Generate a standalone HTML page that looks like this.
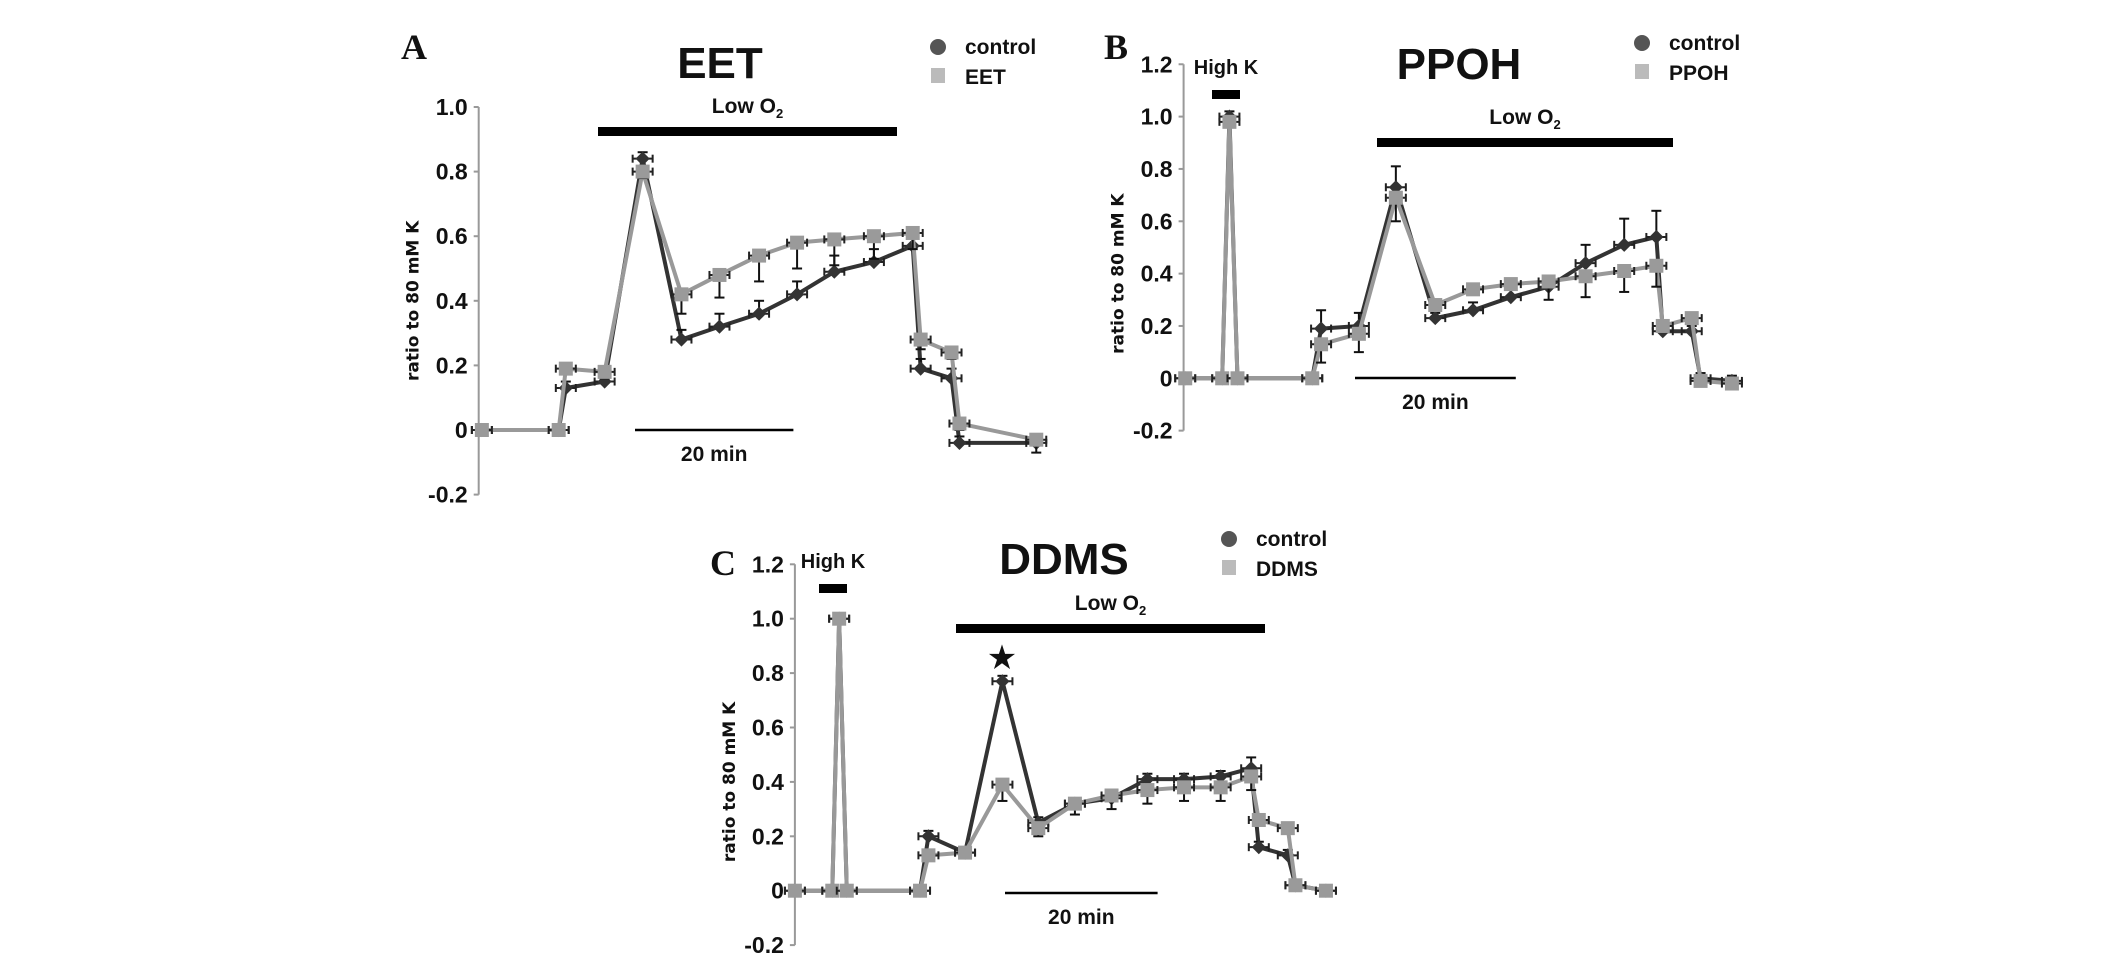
<!DOCTYPE html>
<html><head><meta charset="utf-8"><style>
html,body{margin:0;padding:0;background:#fff}
svg{display:block}
text{font-family:"Liberation Sans Narrow","Liberation Sans",sans-serif;font-weight:bold;fill:#111}
</style></head><body>
<svg id="fig" width="2126" height="960" viewBox="0 0 2126 960" xmlns="http://www.w3.org/2000/svg"></svg>
<script>
// ---- Panel A (EET) ----
const timesA = [0.4,10.1,11,15.9,20.7,25.6,30.4,35.4,40.2,44.9,49.9,54.8,55.8,59.7,60.7,70.4];
const ctrlA  = [0,0,0.13,0.15,0.84,0.28,0.32,0.36,0.42,0.49,0.52,0.57,0.19,0.16,-0.04,-0.04];
const ctrlErrA = [0,0,0.02,0.02,0.02,0.03,0.04,0.04,0.04,0.05,0.04,0.03,0.03,0.03,0.02,0.02];
const trtA   = [0,0,0.19,0.18,0.80,0.42,0.48,0.54,0.58,0.59,0.60,0.61,0.28,0.24,0.02,-0.03];
const trtErrA = [0,0,0.01,0.02,0.02,0.06,0.07,0.08,0.08,0.08,0.07,0.05,0.03,0.02,0.02,0.04];
// ---- Panel B (PPOH) ----
const timesB = [0.2,4.8,5.7,6.7,16,17.1,21.8,26.4,31.3,36,40.7,45.4,50,54.8,58.8,59.6,63.2,64.3,68.2];
const ctrlB  = [0,0,1.0,0,0,0.19,0.20,0.73,0.23,0.26,0.31,0.35,0.44,0.51,0.54,0.18,0.18,0.0,-0.01];
const ctrlErrB = [0,0,0.02,0,0,0.07,0.05,0.08,0.02,0.03,0.03,0.04,0.07,0.10,0.10,0.02,0.02,0.02,0.02];
const trtB   = [0,0,0.98,0,0,0.13,0.17,0.69,0.28,0.34,0.36,0.37,0.39,0.41,0.43,0.20,0.23,-0.01,-0.02];
const trtErrB = [0,0,0.02,0,0,0.07,0.07,0.09,0.02,0.02,0.02,0.07,0.08,0.08,0.08,0.02,0.02,0.02,0.02];
// ---- Panel C (DDMS) ----
const timesC = [0,4.9,5.8,6.8,16.4,17.5,22.3,27.2,31.9,36.7,41.5,46.2,51,55.8,59.8,60.8,64.6,65.6,69.6];
const ctrlC  = [0,0,1.0,0,0,0.20,0.14,0.77,0.25,0.32,0.34,0.41,0.41,0.42,0.45,0.16,0.13,0.02,0];
const ctrlErrC = [0,0,0.02,0,0,0.02,0.02,0.02,0.02,0.02,0.03,0.02,0.02,0.02,0.04,0.02,0.02,0.02,0.01];
const trtC   = [0,0,1.0,0,0,0.13,0.14,0.39,0.23,0.32,0.35,0.37,0.38,0.38,0.42,0.26,0.23,0.02,0];
const trtErrC = [0,0,0.02,0,0,0.02,0.02,0.06,0.03,0.04,0.05,0.05,0.05,0.05,0.05,0.02,0.02,0.02,0.01];
const tickVals = [-0.2,0,0.2,0.4,0.6,0.8,1.0,1.2];
const tickLabels = ["-0.2","0","0.2","0.4","0.6","0.8","1.0","1.2"];

const NS="http://www.w3.org/2000/svg";
const svg=document.getElementById('fig');
function mk(tag,attrs,parent,txt){const e=document.createElementNS(NS,tag);for(const k in attrs)e.setAttribute(k,attrs[k]);if(txt!==undefined)e.textContent=txt;(parent||svg).appendChild(e);return e;}

function panel(cfg){
  const g=mk('g',{});
  
  
  const xs=t=>cfg.x0+t*cfg.pxMin;
  const ys=v=>cfg.y0-v*cfg.pxUnit;
  const ax=mk('line',{x1:cfg.x0,x2:cfg.x0,y1:ys(cfg.ymax),y2:ys(-0.2),stroke:'#999','stroke-width':2},g);
  
  
  tickVals.forEach((v,i)=>{
    if(v>cfg.ymax+1e-9)return;
    mk('line',{x1:cfg.x0-5,x2:cfg.x0,y1:ys(v),y2:ys(v),stroke:'#999','stroke-width':2},g);
    const t=mk('text',{x:cfg.x0-11,y:ys(v)+8,'text-anchor':'end','font-size':23},g,tickLabels[i]);
    
    
  });
  const yl=mk('text',{x:0,y:0,'text-anchor':'middle','font-size':17,transform:`translate(${cfg.x0-60},${ys(0.4)}) rotate(-90)`,style:'font-family:"DejaVu Sans",sans-serif'},g,'ratio to 80 mM K');
  
  
  function series(times,vals,errs,color,mcolor,dir,name,shape){
    const sg=mk('g',{},g);
    
    
    const pts=times.map((t,i)=>xs(t)+','+ys(vals[i])).join(' ');
    mk('polyline',{points:pts,fill:'none',stroke:color,'stroke-width':4,'stroke-linejoin':'round'},sg);
    times.forEach((t,i)=>{
      const x=xs(t),y=ys(vals[i]);
      if(errs[i]>0.015){
        const ye=ys(vals[i]+dir*errs[i]);
        mk('line',{x1:x,x2:x,y1:y,y2:ye,stroke:'#111','stroke-width':2},sg);
        mk('line',{x1:x-5,x2:x+5,y1:ye,y2:ye,stroke:'#111','stroke-width':2},sg);
      }
      mk('line',{x1:x-10,x2:x+10,y1:y,y2:y,stroke:'#222','stroke-width':2},sg);
      mk('line',{x1:x-10,x2:x-10,y1:y-4,y2:y+4,stroke:'#222','stroke-width':2},sg);
      mk('line',{x1:x+10,x2:x+10,y1:y-4,y2:y+4,stroke:'#222','stroke-width':2},sg);
      let m;
      if(shape==='d') m=mk('rect',{x:x-5,y:y-5,width:10,height:10,fill:mcolor,transform:`rotate(45 ${x} ${y})`},sg);
      else m=mk('rect',{x:x-7,y:y-7,width:14,height:14,fill:mcolor},sg);
      
      
    });
  }
  series(cfg.times,cfg.ctrl,cfg.ctrlErr,'#333','#333',1,'control-series','d');
  series(cfg.times,cfg.trt,cfg.trtErr,'#999','#9a9a9a',-1,cfg.id+'-series','s');
  const title=mk('text',{x:cfg.title[0],y:cfg.title[1]+16,'text-anchor':'middle','font-size':44},g,cfg.name);
  
  
  const let_=mk('text',{x:cfg.letter[0],y:cfg.letter[1]+12,'text-anchor':'middle','font-size':36,style:'font-family:"Liberation Serif",serif'},g,cfg.L);
  
  
  const lg=mk('g',{},g);
  
  
  mk('circle',{cx:cfg.leg[0],cy:cfg.leg[1],r:8,fill:'#555'},lg);
  mk('rect',{x:cfg.leg[0]-7,y:cfg.leg[1]+21,width:14,height:15,fill:'#bbb'},lg);
  const l1=mk('text',{x:cfg.leg[0]+27,y:cfg.leg[1]+7,'font-size':21},lg,'control');
  
  
  const l2=mk('text',{x:cfg.leg[0]+27,y:cfg.leg[1]+37,'font-size':21},lg,cfg.name);
  
  
  const lo=mk('rect',{x:cfg.low[0],y:cfg.low[2]-4,width:cfg.low[1]-cfg.low[0],height:9,fill:'#000'},g);
  
  
  const lt=mk('text',{x:(cfg.low[0]+cfg.low[1])/2,y:cfg.low[2]-18,'text-anchor':'middle','font-size':21},g);
  
  
  lt.innerHTML='Low O<tspan font-size="13" dy="5">2</tspan>';
  const sb=mk('line',{x1:cfg.scale[0],x2:cfg.scale[0]+20*cfg.pxMin,y1:cfg.scale[1],y2:cfg.scale[1],stroke:'#000','stroke-width':2.5},g);
  
  
  const st=mk('text',{x:cfg.scale[0]+10*cfg.pxMin,y:cfg.scale[1]+31,'text-anchor':'middle','font-size':21},g,'20 min');
  
  
  if(cfg.highK){
    const hb=mk('rect',{x:cfg.highK[0],y:cfg.highK[1]-4,width:28,height:9,fill:'#000'},g);
    
    
    const ht=mk('text',{x:cfg.highK[0]+14,y:cfg.highK[1]-20,'text-anchor':'middle','font-size':20},g,'High K');
    
    
  }
  if(cfg.star){
    const s=mk('text',{x:cfg.star[0],y:cfg.star[1]+12,'text-anchor':'middle','font-size':34,style:'font-family:"DejaVu Sans",sans-serif'},g,'★');
    
    
  }
}
panel({id:'eet',name:'EET',L:'A',x0:478.7,y0:430,pxUnit:323,pxMin:7.92,ymax:1.0,
  times:timesA,ctrl:ctrlA,ctrlErr:ctrlErrA,trt:trtA,trtErr:trtErrA,
  title:[720,62],letter:[414,47],leg:[938,47],low:[598,897,131],scale:[635,430]});
panel({id:'ppoh',name:'PPOH',L:'B',x0:1183.6,y0:378.3,pxUnit:261.7,pxMin:8.04,ymax:1.2,
  times:timesB,ctrl:ctrlB,ctrlErr:ctrlErrB,trt:trtB,trtErr:trtErrB,
  title:[1459,63],letter:[1116,47],leg:[1642,43],low:[1377,1673,142],scale:[1355,378],highK:[1212,94]});
panel({id:'ddms',name:'DDMS',L:'C',x0:794.9,y0:890.7,pxUnit:272,pxMin:7.63,ymax:1.2,
  times:timesC,ctrl:ctrlC,ctrlErr:ctrlErrC,trt:trtC,trtErr:trtErrC,
  title:[1064,558],letter:[723,563],leg:[1229,539],low:[956,1265,628],scale:[1005,893],highK:[819,588],star:[1002,657]});
</script>
</body></html>
